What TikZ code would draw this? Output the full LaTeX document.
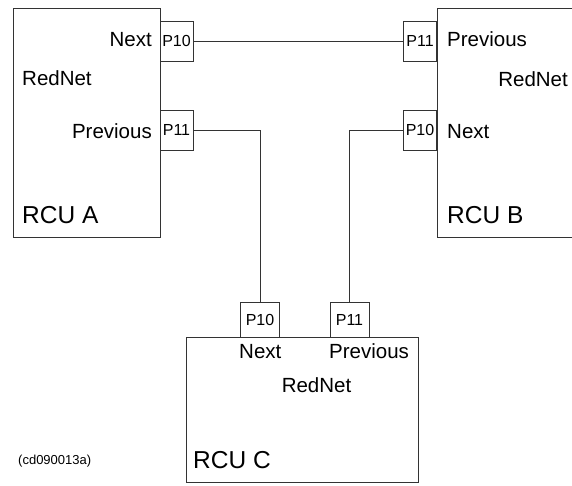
\documentclass[tikz,border=0pt]{standalone}
\usepackage{fontspec}
\setmainfont{Liberation Sans}

\begin{document}
\begin{tikzpicture}[x=1pt, y=-1pt,
  unit/.style={draw=black!80, line width=0.8pt, inner sep=0pt},
  port/.style={draw=black!80, line width=0.8pt, inner sep=0pt,
    font=\fontsize{16}{16}\selectfont},
  sideport/.style={port, minimum width=33pt, minimum height=40pt},
  botport/.style={port, minimum width=39pt, minimum height=35pt},
  lbl/.style={font=\fontsize{20.5}{20.5}\selectfont, inner sep=0pt},
  title/.style={font=\fontsize{24.5}{24.5}\selectfont, inner sep=0pt},
  wire/.style={draw=black!80, line width=0.8pt}]

  % page frame (unit B runs off the right edge)
  \clip (0,0) rectangle (572,485);

  %% RCU A
  \node[unit, minimum width=147pt, minimum height=229pt] (rcua) at (86.5,122.5) {};
  \node[sideport] (a10) at (176.5,41) {P10};
  \node[sideport] (a11) at (176.5,130) {P11};
  \node[lbl, anchor=base east] (anext) at (152,46) {Next};
  \node[lbl, anchor=base west] (anet) at (22,85) {RedNet};
  \node[lbl, anchor=base east] (aprev) at (152,138) {Previous};
  \node[title, anchor=base west] (aname) at (22,223) {RCU A};

  %% RCU B
  \node[unit, minimum width=163pt, minimum height=229pt] (rcub) at (518.5,122.5) {};
  \node[sideport] (b11) at (420,41) {P11};
  \node[sideport] (b10) at (420,130) {P10};
  \node[lbl, anchor=base west] (bprev) at (447,46) {Previous};
  \node[lbl, anchor=base east] (bnet) at (568,86) {RedNet};
  \node[lbl, anchor=base west] (bnext) at (447,138) {Next};
  \node[title, anchor=base west] (bname) at (447,223) {RCU B};

  %% RCU C
  \node[unit, minimum width=232pt, minimum height=145pt] (rcuc) at (302,409.5) {};
  \node[botport] (c10) at (260,319.5) {P10};
  \node[botport] (c11) at (349.5,319.5) {P11};
  \node[lbl, anchor=base west] (cnext) at (239,358) {Next};
  \node[lbl, anchor=base west] (cprev) at (329,358) {Previous};
  \node[lbl, anchor=base] (cnet) at (316.5,392) {RedNet};
  \node[title, anchor=base west] (cname) at (193,468) {RCU C};

  % ring cabling
  \draw[wire] (a10.east) -- (b11.west);
  \draw[wire] (a11.east) -| (c10.north);
  \draw[wire] (b10.west) -| (c11.north);

  % figure tag
  \node[font=\fontsize{13}{13}\selectfont, inner sep=0pt, anchor=base west]
    (tag) at (18,464) {(cd090013a)};
\end{tikzpicture}
\end{document}
